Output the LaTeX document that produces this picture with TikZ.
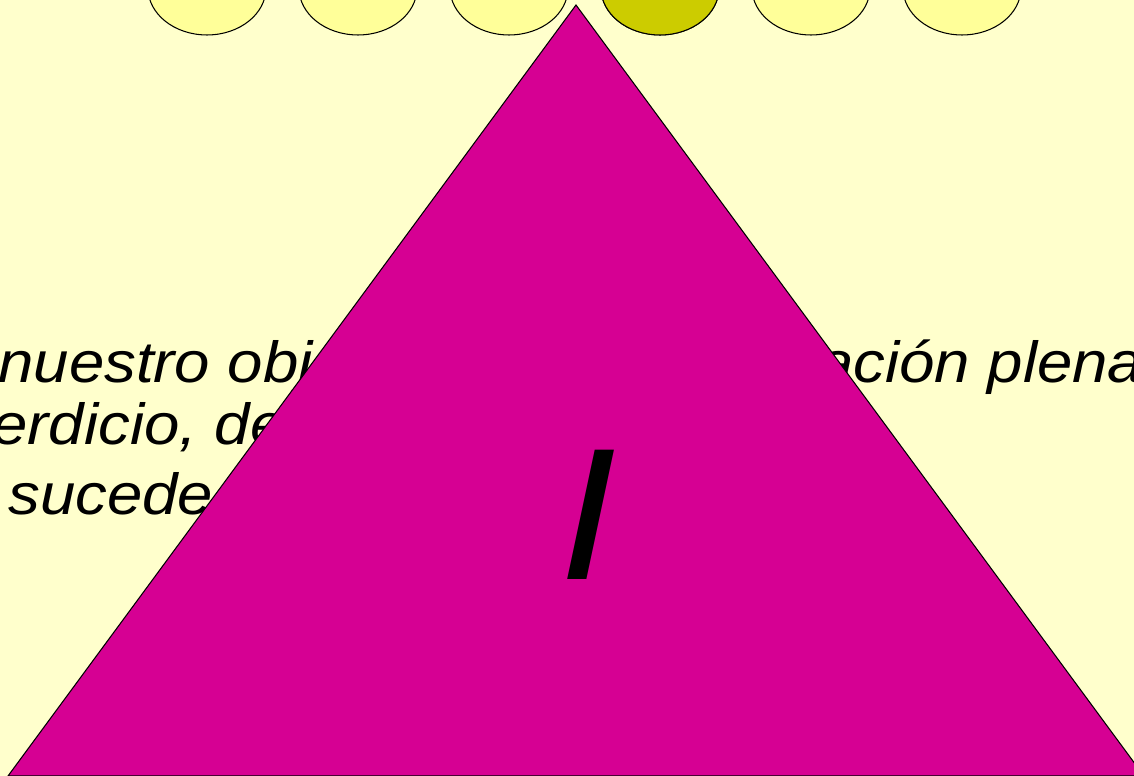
\documentclass[tikz,border=0pt]{standalone}
\usepackage{fontspec}
\setmainfont{Liberation Sans}
\usepackage{graphicx}
\definecolor{slidebg}{HTML}{FFFFCC}
\definecolor{beadlight}{HTML}{FFFF99}
\definecolor{beaddark}{HTML}{CCCC00}
\definecolor{pyramid}{HTML}{D60093}
\newcommand{\widetext}[1]{\scalebox{1.096}[1]{#1}}
\tikzset{
  slidetext/.style={anchor=base west, inner sep=0pt, font=\fontsize{33}{40}\selectfont\itshape},
  bead/.style={draw=black, line width=0.6pt},
}

\begin{document}
\begin{tikzpicture}[x=0.02cm, y=-0.02cm]
	% Background
	\fill[slidebg] (0,0) rectangle (1134,776);
	\useasboundingbox (0,0) rectangle (1134,776);
	\clip (0,0) rectangle (1134,776);

	% Beads
	\foreach \i in {0,...,5}{
		\draw[bead, fill=beadlight] (207+151*\i,-12) ellipse [x radius=1.18cm, y radius=0.94cm];
	}
	\draw[bead, fill=beaddark] (660,-12) ellipse [x radius=1.18cm, y radius=0.94cm];

	% Text
	\node[slidetext] (lineA) at (-2,383) {\widetext{nuestro obj}};
	\node[slidetext] (lineB) at (818,383) {\widetext{ación plena}};
	\node[slidetext] (lineC) at (-8,445) {\widetext{erdicio, de}};
	\node[slidetext] (lineD) at (8,515) {\widetext{sucede}};

	% Pyramid
	\coordinate (top) at (576,5);
	\coordinate (right) at (1144,776);
	\coordinate (left) at (8,776);
	\draw[fill=pyramid, line width=0.6pt] (top) -- (right) -- (left) -- cycle;
	\node[anchor=base, inner sep=0pt, font=\fontsize{107}{107}\selectfont\itshape] (letter) at (588,580) {\widetext{I}};
\end{tikzpicture}
\end{document}
